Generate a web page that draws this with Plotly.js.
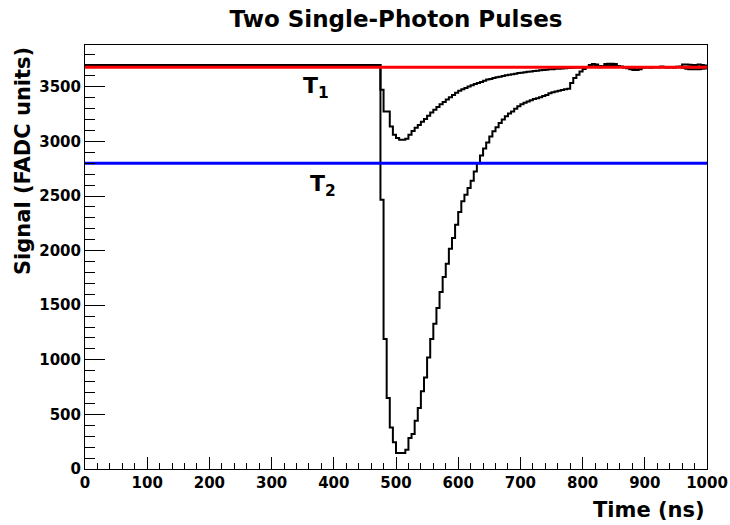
<!DOCTYPE html>
<html>
<head>
<meta charset="utf-8">
<script src="https://cdn.plot.ly/plotly-3.0.1.min.js"></script>
<style>
  html, body { margin: 0; padding: 0; background: #ffffff; }
  #chart { width: 730px; height: 525px; }
</style>
</head>
<body>
<div id="chart"></div>
<script>
// ---- Data ----
// Histogram: 200 bins of 5 ns between 0 and 1000 ns
const binStartNs = 0;
const binWidthNs = 5;

// Large single-photon pulse (FADC units per bin)
const largePulse = [
  3700,3700,3700,3700,3700,3700,3700,3700,3700,3700,3700,3700,3700,3700,3700,3700,3700,3700,3700,
  3700,3700,3700,3700,3700,3700,3700,3700,3700,3700,3700,3700,3700,3700,3700,3700,3700,3700,3700,
  3700,3700,3700,3700,3700,3700,3700,3700,3700,3700,3700,3700,3700,3700,3700,3700,3700,3700,3700,
  3700,3700,3700,3700,3700,3700,3700,3700,3700,3700,3700,3700,3700,3700,3700,3700,3700,3700,3700,
  3700,3700,3700,3700,3700,3700,3700,3700,3700,3700,3700,3700,3700,3700,3700,3700,3700,3700,3700,
  2466,1190,650,381,244,146,146,146,177,284,
  320,442,559,711,839,1022,1190,1331,1474,1621,
  1758,1880,2017,2115,2237,2353,2451,2512,2573,2640,
  2725,2800,2870,2935,2990,3046,3092,3130,3168,3200,
  3230,3255,3275,3300,3321,3340,3355,3365,3378,3388,
  3395,3405,3415,3425,3440,3450,3458,3465,3470,3478,
  3482,3535,3580,3611,3641,3663,3681,3700,3709,3705,
  3680,3685,3710,3712,3712,3710,3690,3685,3680,3670,
  3660,3655,3655,3660,3675,3680,3680,3678,3682,3680,
  3683,3680,3678,3682,3680,3683,3685,3705,3705,3703,
  3700,3700,3705,3700,3695
];

// Small single-photon pulse (FADC units per bin)
const smallPulse = [
  3700,3700,3700,3700,3700,3700,3700,3700,3700,3700,3700,3700,3700,3700,3700,3700,3700,3700,3700,
  3700,3700,3700,3700,3700,3700,3700,3700,3700,3700,3700,3700,3700,3700,3700,3700,3700,3700,3700,
  3700,3700,3700,3700,3700,3700,3700,3700,3700,3700,3700,3700,3700,3700,3700,3700,3700,3700,3700,
  3700,3700,3700,3700,3700,3700,3700,3700,3700,3700,3700,3700,3700,3700,3700,3700,3700,3700,3700,
  3700,3700,3700,3700,3700,3700,3700,3700,3700,3700,3700,3700,3700,3700,3700,3700,3700,3700,3700,
  3473,3275,3275,3137,3061,3031,3015,3015,3025,3060,
  3095,3125,3150,3180,3205,3235,3265,3290,3315,3340,
  3360,3385,3405,3425,3445,3464,3478,3490,3504,3515,
  3525,3535,3545,3555,3566,3572,3580,3587,3592,3598,
  3605,3611,3615,3620,3626,3630,3634,3638,3641,3645,
  3648,3652,3655,3657,3660,3662,3665,3666,3668,3670,
  3672,3674,3676,3678,3680,3680,3682,3685,3688,3690,
  3690,3688,3692,3695,3700,3698,3690,3682,3680,3678,
  3675,3672,3675,3680,3682,3680,3678,3680,3682,3680,
  3683,3680,3682,3680,3678,3682,3680,3675,3665,3660,
  3660,3662,3660,3665,3668
];

// Thresholds
const thresholdNames = ["T<sub>1</sub>", "T<sub>2</sub>"];
const thresholdValues = [3680, 2800];
const thresholdColors = ["#ff0000", "#0000ff"];
const thresholdLabelX = [372, 382];
const thresholdLabelY = [3496, 2594];

// Axis settings
const xRange = [0, 1000];
const yRange = [0, 3883];

// ---- Build step traces ----
function stepTrace(values) {
  const xs = [], ys = [];
  for (let i = 0; i < values.length; i++) {
    xs.push(binStartNs + i * binWidthNs);
    ys.push(values[i]);
  }
  xs.push(binStartNs + values.length * binWidthNs);
  ys.push(values[values.length - 1]);
  return {
    x: xs, y: ys, type: "scatter", mode: "lines",
    line: { shape: "hv", color: "#000000", width: 2 },
    hoverinfo: "skip", showlegend: false
  };
}

const traces = [stepTrace(largePulse), stepTrace(smallPulse)];
thresholdValues.forEach((v, i) => {
  traces.push({
    x: [xRange[0], xRange[1]], y: [v, v], type: "scatter", mode: "lines",
    line: { color: thresholdColors[i], width: 3 },
    hoverinfo: "skip", showlegend: false
  });
});

const FONT = "DejaVu Sans, Liberation Sans, Arial, sans-serif";

const annotations = thresholdNames.map((t, i) => ({
  x: thresholdLabelX[i], y: thresholdLabelY[i], xref: "x", yref: "y",
  text: t, showarrow: false, xanchor: "center", yanchor: "middle",
  font: { family: FONT, size: 22, color: "#000000", weight: "bold" }
}));

annotations.push({
  xref: "paper", yref: "paper", x: 1, y: 0, xanchor: "right", yanchor: "top",
  yshift: -27, text: "Time (ns)", showarrow: false,
  font: { family: FONT, size: 21, color: "#000000", weight: "bold" }
});
annotations.push({
  xref: "paper", yref: "paper", x: 0, y: 1, xanchor: "center", yanchor: "top",
  xshift: -62, textangle: -90, text: "Signal (FADC units)", showarrow: false,
  font: { family: FONT, size: 21, color: "#000000", weight: "bold" }
});

const layout = {
  width: 730, height: 525,
  margin: { l: 85, r: 23, t: 45, b: 56, pad: 0 },
  paper_bgcolor: "#ffffff", plot_bgcolor: "#ffffff",
  title: {
    text: "Two Single-Photon Pulses",
    x: 0.5, xref: "paper", xanchor: "center",
    y: 0.963, yref: "container", yanchor: "middle",
    font: { family: FONT, size: 23, color: "#000000", weight: "bold" }
  },
  xaxis: {
    range: xRange, tick0: 0, dtick: 100,
    ticks: "inside", ticklen: 12, tickwidth: 1, tickcolor: "#000000",
    minor: { dtick: 20, ticks: "inside", ticklen: 6, tickwidth: 1, tickcolor: "#000000", showgrid: false },
    showline: true, linecolor: "#000000", linewidth: 1, mirror: true,
    showgrid: false, zeroline: false,
    tickfont: { family: FONT, size: 15, color: "#000000", weight: "bold" }
  },
  yaxis: {
    range: yRange, tick0: 0, dtick: 500,
    ticks: "inside", ticklen: 20, tickwidth: 1, tickcolor: "#000000",
    minor: { dtick: 100, ticks: "inside", ticklen: 10, tickwidth: 1, tickcolor: "#000000", showgrid: false },
    showline: true, linecolor: "#000000", linewidth: 1, mirror: true,
    showgrid: false, zeroline: false,
    tickfont: { family: FONT, size: 15, color: "#000000", weight: "bold" }
  },
  annotations: annotations,
  showlegend: false
};

Plotly.newPlot("chart", traces, layout, { staticPlot: true, displayModeBar: false }).then(gd => {
  // drop empty placeholder text nodes that Plotly leaves behind
  gd.querySelectorAll("text").forEach(t => {
    if (!t.textContent || !t.textContent.trim()) t.remove();
  });
});
</script>
</body>
</html>
